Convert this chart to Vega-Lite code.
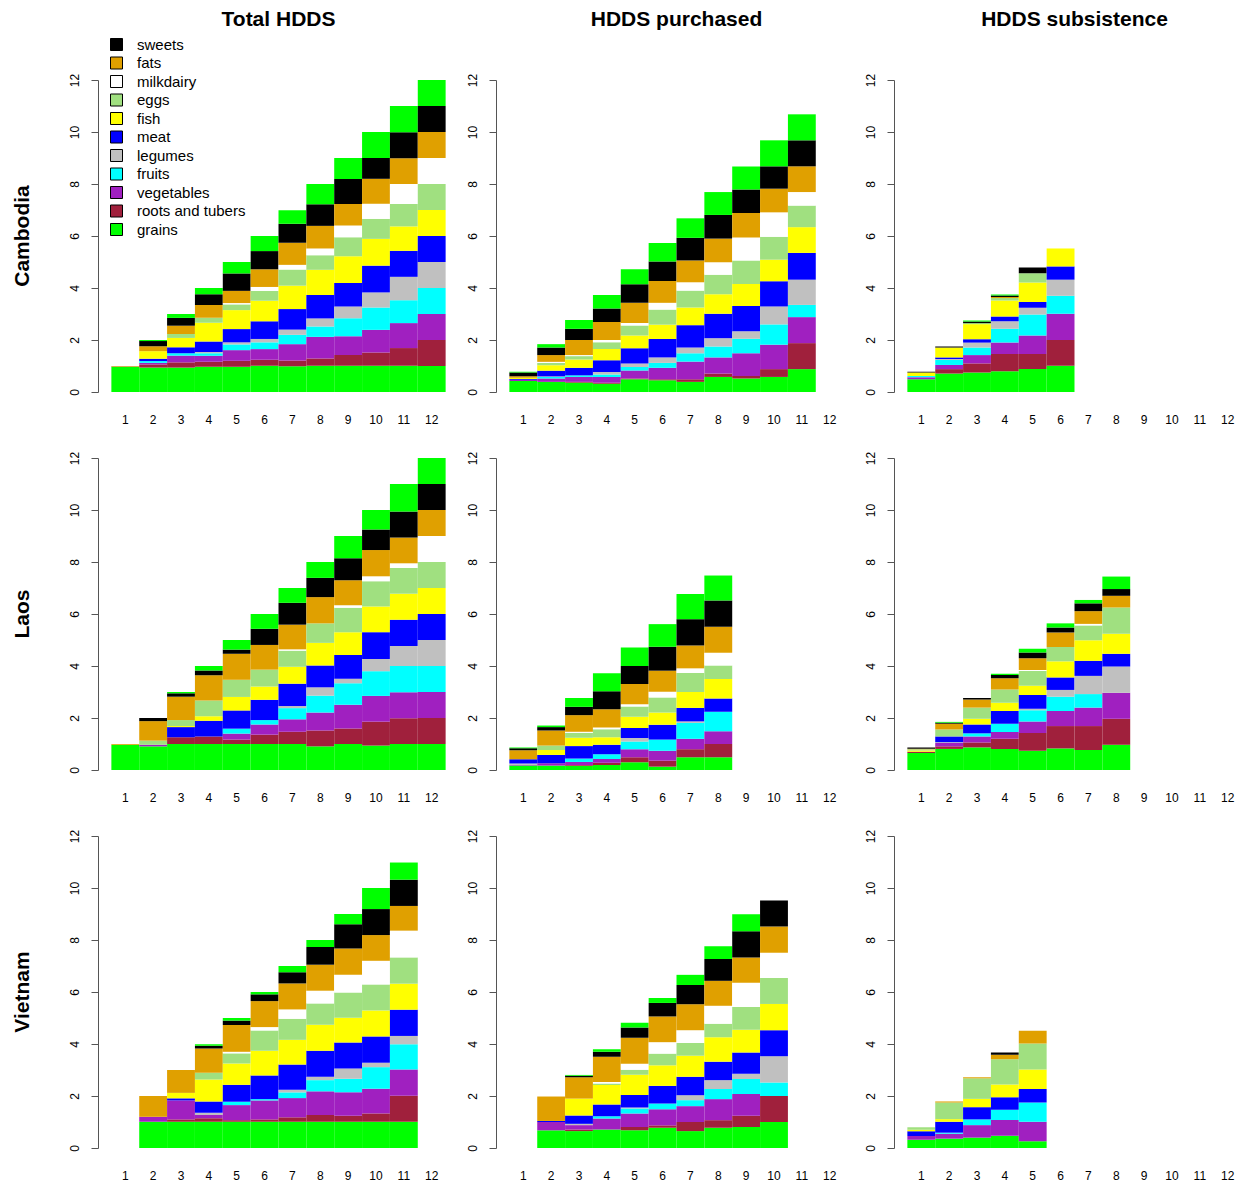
{
  "$schema": "https://vega.github.io/schema/vega-lite/v6.json",
  "padding": {"left": 12, "top": 9, "right": 0, "bottom": 0},
  "datasets": {
    "groups": [
      {"s": "gr", "g": "grains", "k": 1},
      {"s": "rt", "g": "roots and tubers", "k": 2},
      {"s": "vg", "g": "vegetables", "k": 3},
      {"s": "fr", "g": "fruits", "k": 4},
      {"s": "lg", "g": "legumes", "k": 5},
      {"s": "mt", "g": "meat", "k": 6},
      {"s": "fs", "g": "fish", "k": 7},
      {"s": "eg", "g": "eggs", "k": 8},
      {"s": "mk", "g": "milkdairy", "k": 9},
      {"s": "ft", "g": "fats", "k": 10},
      {"s": "sw", "g": "sweets", "k": 11},
      {"s": "ms", "g": "misc", "k": 12}
    ],
    "hdds": [
      {"c": "Cambodia", "p": "Total HDDS", "n": 1, "gr": 0.97, "rt": 0.01, "ft": 0.02},
      {"c": "Cambodia", "p": "Total HDDS", "n": 2, "gr": 0.94, "rt": 0.12, "vg": 0.06, "fr": 0.07, "mt": 0.09, "fs": 0.29, "ft": 0.19, "sw": 0.2, "ms": 0.04},
      {"c": "Cambodia", "p": "Total HDDS", "n": 3, "gr": 0.94, "rt": 0.2, "vg": 0.26, "fr": 0.09, "mt": 0.23, "fs": 0.36, "eg": 0.15, "ft": 0.32, "sw": 0.3, "ms": 0.15},
      {"c": "Cambodia", "p": "Total HDDS", "n": 4, "gr": 0.97, "rt": 0.19, "vg": 0.23, "fr": 0.1, "lg": 0.05, "mt": 0.4, "fs": 0.72, "eg": 0.2, "ft": 0.49, "sw": 0.41, "ms": 0.24},
      {"c": "Cambodia", "p": "Total HDDS", "n": 5, "gr": 0.97, "rt": 0.23, "vg": 0.41, "fr": 0.22, "lg": 0.08, "mt": 0.51, "fs": 0.73, "eg": 0.22, "mk": 0.05, "ft": 0.47, "sw": 0.67, "ms": 0.44},
      {"c": "Cambodia", "p": "Total HDDS", "n": 6, "gr": 1.01, "rt": 0.23, "vg": 0.41, "fr": 0.26, "lg": 0.13, "mt": 0.68, "fs": 0.79, "eg": 0.38, "mk": 0.15, "ft": 0.68, "sw": 0.7, "ms": 0.58},
      {"c": "Cambodia", "p": "Total HDDS", "n": 7, "gr": 0.99, "rt": 0.22, "vg": 0.63, "fr": 0.36, "lg": 0.2, "mt": 0.79, "fs": 0.9, "eg": 0.62, "mk": 0.18, "ft": 0.85, "sw": 0.73, "ms": 0.52},
      {"c": "Cambodia", "p": "Total HDDS", "n": 8, "gr": 1.01, "rt": 0.28, "vg": 0.83, "fr": 0.4, "lg": 0.31, "mt": 0.9, "fs": 0.97, "eg": 0.56, "mk": 0.26, "ft": 0.87, "sw": 0.83, "ms": 0.78},
      {"c": "Cambodia", "p": "Total HDDS", "n": 9, "gr": 1.01, "rt": 0.41, "vg": 0.72, "fr": 0.7, "lg": 0.45, "mt": 0.9, "fs": 1.03, "eg": 0.73, "mk": 0.45, "ft": 0.83, "sw": 0.96, "ms": 0.81},
      {"c": "Cambodia", "p": "Total HDDS", "n": 10, "gr": 1.01, "rt": 0.51, "vg": 0.87, "fr": 0.86, "lg": 0.58, "mt": 1.03, "fs": 1.03, "eg": 0.77, "mk": 0.58, "ft": 0.96, "sw": 0.8, "ms": 1.0},
      {"c": "Cambodia", "p": "Total HDDS", "n": 11, "gr": 1.01, "rt": 0.68, "vg": 0.96, "fr": 0.88, "lg": 0.9, "mt": 1.0, "fs": 0.94, "eg": 0.86, "mk": 0.77, "ft": 0.99, "sw": 1.0, "ms": 1.01},
      {"c": "Cambodia", "p": "Total HDDS", "n": 12, "gr": 1, "rt": 1, "vg": 1, "fr": 1, "lg": 1, "mt": 1, "fs": 1, "eg": 1, "mk": 1, "ft": 1, "sw": 1, "ms": 1},
      {"c": "Cambodia", "p": "HDDS purchased", "n": 1, "gr": 0.42, "vg": 0.05, "mt": 0.03, "fs": 0.05, "ft": 0.06, "sw": 0.14, "ms": 0.03},
      {"c": "Cambodia", "p": "HDDS purchased", "n": 2, "gr": 0.39, "vg": 0.13, "fr": 0.06, "lg": 0.02, "mt": 0.22, "fs": 0.21, "eg": 0.09, "mk": 0.04, "ft": 0.26, "sw": 0.29, "ms": 0.13},
      {"c": "Cambodia", "p": "HDDS purchased", "n": 3, "gr": 0.36, "rt": 0.03, "vg": 0.19, "fr": 0.06, "mt": 0.29, "fs": 0.32, "eg": 0.13, "mk": 0.04, "ft": 0.58, "sw": 0.43, "ms": 0.34},
      {"c": "Cambodia", "p": "HDDS purchased", "n": 4, "gr": 0.32, "rt": 0.04, "vg": 0.22, "fr": 0.09, "lg": 0.1, "mt": 0.45, "fs": 0.43, "eg": 0.26, "mk": 0.09, "ft": 0.69, "sw": 0.52, "ms": 0.52},
      {"c": "Cambodia", "p": "HDDS purchased", "n": 5, "gr": 0.49, "rt": 0.03, "vg": 0.31, "fr": 0.13, "lg": 0.14, "mt": 0.58, "fs": 0.49, "eg": 0.39, "mk": 0.09, "ft": 0.78, "sw": 0.71, "ms": 0.58},
      {"c": "Cambodia", "p": "HDDS purchased", "n": 6, "gr": 0.45, "rt": 0.04, "vg": 0.44, "fr": 0.19, "lg": 0.21, "mt": 0.71, "fs": 0.55, "eg": 0.58, "mk": 0.26, "ft": 0.84, "sw": 0.75, "ms": 0.71},
      {"c": "Cambodia", "p": "HDDS purchased", "n": 7, "gr": 0.39, "rt": 0.1, "vg": 0.68, "fr": 0.32, "lg": 0.22, "mt": 0.86, "fs": 0.68, "eg": 0.65, "mk": 0.32, "ft": 0.84, "sw": 0.87, "ms": 0.75},
      {"c": "Cambodia", "p": "HDDS purchased", "n": 8, "gr": 0.58, "rt": 0.13, "vg": 0.62, "fr": 0.42, "lg": 0.32, "mt": 0.94, "fs": 0.75, "eg": 0.75, "mk": 0.48, "ft": 0.91, "sw": 0.91, "ms": 0.88},
      {"c": "Cambodia", "p": "HDDS purchased", "n": 9, "gr": 0.52, "rt": 0.1, "vg": 0.87, "fr": 0.56, "lg": 0.29, "mt": 0.97, "fs": 0.84, "eg": 0.91, "mk": 0.88, "ft": 0.94, "sw": 0.91, "ms": 0.88},
      {"c": "Cambodia", "p": "HDDS purchased", "n": 10, "gr": 0.58, "rt": 0.3, "vg": 0.94, "fr": 0.78, "lg": 0.69, "mt": 0.97, "fs": 0.83, "eg": 0.88, "mk": 0.94, "ft": 0.91, "sw": 0.86, "ms": 1.0},
      {"c": "Cambodia", "p": "HDDS purchased", "n": 11, "gr": 0.88, "rt": 1.0, "vg": 1.0, "fr": 0.47, "lg": 0.97, "mt": 1.03, "fs": 0.99, "eg": 0.83, "mk": 0.52, "ft": 0.99, "sw": 1.0, "ms": 1.0},
      {"c": "Cambodia", "p": "HDDS subsistence", "n": 1, "gr": 0.49, "vg": 0.08, "fr": 0.05, "fs": 0.13, "sw": 0.03},
      {"c": "Cambodia", "p": "HDDS subsistence", "n": 2, "gr": 0.71, "rt": 0.17, "vg": 0.16, "fr": 0.19, "lg": 0.04, "mt": 0.06, "fs": 0.38, "sw": 0.04},
      {"c": "Cambodia", "p": "HDDS subsistence", "n": 3, "gr": 0.75, "rt": 0.35, "vg": 0.32, "fr": 0.29, "lg": 0.19, "mt": 0.13, "fs": 0.58, "eg": 0.04, "sw": 0.06, "ms": 0.04},
      {"c": "Cambodia", "p": "HDDS subsistence", "n": 4, "gr": 0.8, "rt": 0.66, "vg": 0.44, "fr": 0.53, "lg": 0.29, "mt": 0.18, "fs": 0.62, "eg": 0.1, "ft": 0.03, "sw": 0.06, "ms": 0.04},
      {"c": "Cambodia", "p": "HDDS subsistence", "n": 5, "gr": 0.88, "rt": 0.58, "vg": 0.71, "fr": 0.81, "lg": 0.26, "mt": 0.22, "fs": 0.75, "eg": 0.36, "sw": 0.22},
      {"c": "Cambodia", "p": "HDDS subsistence", "n": 6, "gr": 1.01, "rt": 0.99, "vg": 1.01, "fr": 0.69, "lg": 0.62, "mt": 0.51, "fs": 0.69},
      {"c": "Laos", "p": "Total HDDS", "n": 1, "gr": 0.97, "ft": 0.03},
      {"c": "Laos", "p": "Total HDDS", "n": 2, "gr": 0.91, "vg": 0.06, "eg": 0.16, "ft": 0.75, "sw": 0.12},
      {"c": "Laos", "p": "Total HDDS", "n": 3, "gr": 1.0, "rt": 0.26, "mt": 0.39, "fs": 0.04, "eg": 0.23, "ft": 0.9, "sw": 0.13, "ms": 0.05},
      {"c": "Laos", "p": "Total HDDS", "n": 4, "gr": 1.0, "rt": 0.29, "mt": 0.6, "fs": 0.18, "eg": 0.6, "ft": 0.97, "sw": 0.19, "ms": 0.17},
      {"c": "Laos", "p": "Total HDDS", "n": 5, "gr": 1.0, "rt": 0.17, "vg": 0.23, "fr": 0.19, "mt": 0.7, "fs": 0.52, "eg": 0.66, "ft": 1.0, "sw": 0.16, "ms": 0.37},
      {"c": "Laos", "p": "Total HDDS", "n": 6, "gr": 1.0, "rt": 0.36, "vg": 0.39, "fr": 0.17, "mt": 0.78, "fs": 0.51, "eg": 0.65, "ft": 0.95, "sw": 0.62, "ms": 0.57},
      {"c": "Laos", "p": "Total HDDS", "n": 7, "gr": 1.0, "rt": 0.47, "vg": 0.48, "fr": 0.43, "lg": 0.08, "mt": 0.86, "fs": 0.65, "eg": 0.62, "mk": 0.05, "ft": 0.95, "sw": 0.84, "ms": 0.57},
      {"c": "Laos", "p": "Total HDDS", "n": 8, "gr": 0.91, "rt": 0.61, "vg": 0.69, "fr": 0.65, "lg": 0.32, "mt": 0.84, "fs": 0.87, "eg": 0.75, "ft": 1.01, "sw": 0.74, "ms": 0.61},
      {"c": "Laos", "p": "Total HDDS", "n": 9, "gr": 1.0, "rt": 0.6, "vg": 0.91, "fr": 0.83, "lg": 0.17, "mt": 0.91, "fs": 0.88, "eg": 0.94, "mk": 0.1, "ft": 0.96, "sw": 0.84, "ms": 0.86},
      {"c": "Laos", "p": "Total HDDS", "n": 10, "gr": 0.94, "rt": 0.92, "vg": 0.99, "fr": 0.95, "lg": 0.47, "mt": 1.03, "fs": 0.99, "eg": 0.97, "mk": 0.19, "ft": 1.01, "sw": 0.79, "ms": 0.75},
      {"c": "Laos", "p": "Total HDDS", "n": 11, "gr": 1.0, "rt": 0.99, "vg": 1.0, "fr": 1.01, "lg": 0.77, "mt": 1.01, "fs": 1.0, "eg": 0.99, "mk": 0.18, "ft": 0.99, "sw": 1.0, "ms": 1.06},
      {"c": "Laos", "p": "Total HDDS", "n": 12, "gr": 1, "rt": 1, "vg": 1, "fr": 1, "lg": 1, "mt": 1, "fs": 1, "eg": 1, "mk": 1, "ft": 1, "sw": 1, "ms": 1},
      {"c": "Laos", "p": "HDDS purchased", "n": 1, "gr": 0.17, "vg": 0.02, "lg": 0.06, "mt": 0.16, "ft": 0.35, "sw": 0.08, "ms": 0.03},
      {"c": "Laos", "p": "HDDS purchased", "n": 2, "gr": 0.17, "vg": 0.09, "mt": 0.32, "fs": 0.19, "eg": 0.17, "ft": 0.58, "sw": 0.13, "ms": 0.06},
      {"c": "Laos", "p": "HDDS purchased", "n": 3, "gr": 0.16, "rt": 0.03, "vg": 0.12, "fr": 0.13, "mt": 0.48, "fs": 0.32, "eg": 0.19, "mk": 0.04, "ft": 0.64, "sw": 0.32, "ms": 0.34},
      {"c": "Laos", "p": "HDDS purchased", "n": 4, "gr": 0.19, "rt": 0.09, "vg": 0.14, "fr": 0.19, "mt": 0.36, "fs": 0.29, "eg": 0.31, "mk": 0.06, "ft": 0.71, "sw": 0.69, "ms": 0.69},
      {"c": "Laos", "p": "HDDS purchased", "n": 5, "gr": 0.3, "rt": 0.19, "vg": 0.31, "fr": 0.3, "lg": 0.13, "mt": 0.39, "fs": 0.43, "eg": 0.39, "mk": 0.09, "ft": 0.78, "sw": 0.69, "ms": 0.71},
      {"c": "Laos", "p": "HDDS purchased", "n": 6, "gr": 0.13, "rt": 0.23, "vg": 0.38, "fr": 0.43, "mt": 0.57, "fs": 0.47, "eg": 0.58, "mk": 0.22, "ft": 0.81, "sw": 0.92, "ms": 0.87},
      {"c": "Laos", "p": "HDDS purchased", "n": 7, "gr": 0.49, "rt": 0.31, "vg": 0.4, "fr": 0.61, "lg": 0.06, "mt": 0.52, "fs": 0.61, "eg": 0.73, "mk": 0.18, "ft": 0.88, "sw": 1.01, "ms": 0.97},
      {"c": "Laos", "p": "HDDS purchased", "n": 8, "gr": 0.49, "rt": 0.51, "vg": 0.49, "fr": 0.75, "mt": 0.51, "fs": 0.75, "eg": 0.52, "mk": 0.49, "ft": 1.0, "sw": 1.01, "ms": 0.96},
      {"c": "Laos", "p": "HDDS subsistence", "n": 1, "gr": 0.65, "rt": 0.05, "fs": 0.05, "eg": 0.05, "ft": 0.02, "sw": 0.05},
      {"c": "Laos", "p": "HDDS subsistence", "n": 2, "gr": 0.81, "rt": 0.1, "vg": 0.13, "lg": 0.03, "mt": 0.22, "eg": 0.27, "ft": 0.22, "sw": 0.04, "ms": 0.03},
      {"c": "Laos", "p": "HDDS subsistence", "n": 3, "gr": 0.87, "rt": 0.19, "vg": 0.23, "fr": 0.12, "mt": 0.34, "fs": 0.22, "eg": 0.43, "ft": 0.31, "sw": 0.06},
      {"c": "Laos", "p": "HDDS subsistence", "n": 4, "gr": 0.81, "rt": 0.39, "vg": 0.26, "fr": 0.32, "mt": 0.49, "fs": 0.32, "eg": 0.51, "ft": 0.43, "sw": 0.12, "ms": 0.05},
      {"c": "Laos", "p": "HDDS subsistence", "n": 5, "gr": 0.74, "rt": 0.68, "vg": 0.45, "fr": 0.43, "lg": 0.06, "mt": 0.52, "fs": 0.36, "eg": 0.57, "mk": 0.04, "ft": 0.45, "sw": 0.22, "ms": 0.14},
      {"c": "Laos", "p": "HDDS subsistence", "n": 6, "gr": 0.83, "rt": 0.86, "vg": 0.58, "fr": 0.55, "lg": 0.26, "mt": 0.48, "fs": 0.62, "eg": 0.55, "ft": 0.56, "sw": 0.19, "ms": 0.16},
      {"c": "Laos", "p": "HDDS subsistence", "n": 7, "gr": 0.77, "rt": 0.92, "vg": 0.71, "fr": 0.52, "lg": 0.7, "mt": 0.58, "fs": 0.79, "eg": 0.57, "mk": 0.06, "ft": 0.49, "sw": 0.3, "ms": 0.13},
      {"c": "Laos", "p": "HDDS subsistence", "n": 8, "gr": 0.97, "rt": 1.0, "vg": 1.0, "lg": 1.01, "mt": 0.49, "fs": 0.77, "eg": 1.01, "ft": 0.45, "sw": 0.26, "ms": 0.48},
      {"c": "Vietnam", "p": "Total HDDS", "n": 2, "gr": 1.01, "vg": 0.19, "ft": 0.8},
      {"c": "Vietnam", "p": "Total HDDS", "n": 3, "gr": 1.01, "rt": 0.09, "vg": 0.73, "mt": 0.08, "fs": 0.21, "ft": 0.88},
      {"c": "Vietnam", "p": "Total HDDS", "n": 4, "gr": 1.01, "rt": 0.13, "vg": 0.13, "lg": 0.09, "mt": 0.43, "fs": 0.84, "eg": 0.26, "ft": 0.94, "sw": 0.1, "ms": 0.06},
      {"c": "Vietnam", "p": "Total HDDS", "n": 5, "gr": 1.01, "rt": 0.06, "vg": 0.58, "fr": 0.13, "mt": 0.65, "fs": 0.82, "eg": 0.39, "mk": 0.06, "ft": 1.03, "sw": 0.17, "ms": 0.1},
      {"c": "Vietnam", "p": "Total HDDS", "n": 6, "gr": 1.01, "rt": 0.09, "vg": 0.73, "fr": 0.05, "mt": 0.91, "fs": 0.95, "eg": 0.78, "mk": 0.13, "ft": 1.0, "sw": 0.26, "ms": 0.09},
      {"c": "Vietnam", "p": "Total HDDS", "n": 7, "gr": 1.01, "rt": 0.17, "vg": 0.74, "fr": 0.22, "lg": 0.1, "mt": 0.97, "fs": 0.95, "eg": 0.81, "mk": 0.36, "ft": 1.0, "sw": 0.43, "ms": 0.24},
      {"c": "Vietnam", "p": "Total HDDS", "n": 8, "gr": 1.01, "rt": 0.26, "vg": 0.91, "fr": 0.43, "lg": 0.13, "mt": 1.0, "fs": 1.0, "eg": 0.82, "mk": 0.49, "ft": 1.0, "sw": 0.68, "ms": 0.27},
      {"c": "Vietnam", "p": "Total HDDS", "n": 9, "gr": 1.01, "rt": 0.23, "vg": 0.9, "fr": 0.52, "lg": 0.4, "mt": 1.0, "fs": 0.95, "eg": 0.97, "mk": 0.68, "ft": 1.01, "sw": 0.94, "ms": 0.39},
      {"c": "Vietnam", "p": "Total HDDS", "n": 10, "gr": 1.01, "rt": 0.32, "vg": 0.95, "fr": 0.83, "lg": 0.17, "mt": 1.01, "fs": 1.0, "eg": 1.0, "mk": 0.91, "ft": 0.99, "sw": 1.0, "ms": 0.81},
      {"c": "Vietnam", "p": "Total HDDS", "n": 11, "gr": 1.01, "rt": 1.0, "vg": 1.01, "fr": 0.97, "lg": 0.32, "mt": 1.01, "fs": 1.0, "eg": 1.01, "mk": 1.03, "ft": 0.95, "sw": 1.01, "ms": 0.66},
      {"c": "Vietnam", "p": "HDDS purchased", "n": 2, "gr": 0.68, "vg": 0.32, "mt": 0.04, "ft": 0.94},
      {"c": "Vietnam", "p": "HDDS purchased", "n": 3, "gr": 0.65, "rt": 0.06, "vg": 0.17, "lg": 0.05, "mt": 0.32, "fs": 0.65, "ft": 0.82, "sw": 0.06, "ms": 0.03},
      {"c": "Vietnam", "p": "HDDS purchased", "n": 4, "gr": 0.71, "vg": 0.42, "fr": 0.09, "mt": 0.45, "fs": 0.75, "eg": 0.06, "mk": 0.06, "ft": 0.97, "sw": 0.19, "ms": 0.1},
      {"c": "Vietnam", "p": "HDDS purchased", "n": 5, "gr": 0.68, "rt": 0.13, "vg": 0.52, "fr": 0.19, "lg": 0.04, "mt": 0.48, "fs": 0.78, "eg": 0.19, "mk": 0.23, "ft": 1.0, "sw": 0.39, "ms": 0.19},
      {"c": "Vietnam", "p": "HDDS purchased", "n": 6, "gr": 0.78, "rt": 0.09, "vg": 0.62, "fr": 0.22, "mt": 0.68, "fs": 0.79, "eg": 0.45, "mk": 0.44, "ft": 0.99, "sw": 0.52, "ms": 0.19},
      {"c": "Vietnam", "p": "HDDS purchased", "n": 7, "gr": 0.65, "rt": 0.35, "vg": 0.61, "fr": 0.23, "lg": 0.19, "mt": 0.71, "fs": 0.81, "eg": 0.49, "mk": 0.49, "ft": 1.0, "sw": 0.74, "ms": 0.39},
      {"c": "Vietnam", "p": "HDDS purchased", "n": 8, "gr": 0.78, "rt": 0.29, "vg": 0.81, "fr": 0.39, "lg": 0.34, "mt": 0.71, "fs": 0.94, "eg": 0.52, "mk": 0.69, "ft": 0.96, "sw": 0.84, "ms": 0.49},
      {"c": "Vietnam", "p": "HDDS purchased", "n": 9, "gr": 0.81, "rt": 0.43, "vg": 0.84, "fr": 0.57, "lg": 0.21, "mt": 0.81, "fs": 0.88, "eg": 0.87, "mk": 0.94, "ft": 0.97, "sw": 1.01, "ms": 0.65},
      {"c": "Vietnam", "p": "HDDS purchased", "n": 10, "gr": 1.0, "rt": 1.0, "fr": 0.52, "lg": 1.01, "mt": 1.0, "fs": 1.01, "eg": 1.0, "mk": 0.97, "ft": 1.01, "sw": 1.0},
      {"c": "Vietnam", "p": "HDDS subsistence", "n": 1, "gr": 0.32, "vg": 0.14, "mt": 0.18, "fs": 0.06, "eg": 0.1},
      {"c": "Vietnam", "p": "HDDS subsistence", "n": 2, "gr": 0.36, "vg": 0.19, "fr": 0.04, "mt": 0.42, "fs": 0.1, "eg": 0.64, "ft": 0.04},
      {"c": "Vietnam", "p": "HDDS subsistence", "n": 3, "gr": 0.4, "vg": 0.48, "fr": 0.22, "mt": 0.47, "fs": 0.32, "eg": 0.79, "ft": 0.04},
      {"c": "Vietnam", "p": "HDDS subsistence", "n": 4, "gr": 0.47, "vg": 0.61, "fr": 0.39, "mt": 0.48, "fs": 0.49, "eg": 0.97, "ft": 0.18, "sw": 0.08},
      {"c": "Vietnam", "p": "HDDS subsistence", "n": 5, "gr": 0.26, "vg": 0.75, "fr": 0.74, "mt": 0.52, "fs": 0.75, "eg": 1.0, "ft": 0.49}
    ]
  },
  "data": {"name": "hdds"},
  "transform": [
    {"fold": ["gr", "rt", "vg", "fr", "lg", "mt", "fs", "eg", "mk", "ft", "sw", "ms"], "as": ["s", "v"]},
    {"filter": "datum.v > 0"},
    {"lookup": "s", "from": {"data": {"name": "groups"}, "key": "s", "fields": ["g", "k"]}}
  ],
  "facet": {
    "row": {"field": "c", "type": "nominal", "title": null, "sort": ["Cambodia", "Laos", "Vietnam"],
      "header": {"labelFont": "Liberation Sans", "labelFontSize": 21, "labelFontWeight": "bold", "labelColor": "#000", "labelPadding": 65}},
    "column": {"field": "p", "type": "nominal", "title": null, "sort": ["Total HDDS", "HDDS purchased", "HDDS subsistence"],
      "header": {"labelFont": "Liberation Sans", "labelFontSize": 21, "labelFontWeight": "bold", "labelColor": "#000", "labelPadding": 50}}
  },
  "spacing": {"row": 66, "column": 37},
  "bounds": "flush",
  "resolve": {"axis": {"x": "independent", "y": "independent"}},
  "spec": {
    "width": 361,
    "height": 312,
    "mark": {"type": "bar"},
    "encoding": {
      "x": {"field": "n", "type": "ordinal",
        "scale": {"domain": [1, 2, 3, 4, 5, 6, 7, 8, 9, 10, 11, 12], "paddingInner": 0, "paddingOuter": 0.48},
        "axis": {"title": null, "domain": false, "ticks": false, "labelAngle": 0, "labelPadding": 22, "labelFont": "Liberation Sans", "labelFontSize": 12, "labelColor": "#000"}},
      "y": {"field": "v", "type": "quantitative", "stack": "zero",
        "scale": {"domain": [0, 12], "nice": false, "zero": true},
        "axis": {"title": null, "values": [0, 2, 4, 6, 8, 10, 12], "grid": false, "labelAngle": -90, "labelAlign": "center", "labelBaseline": "bottom", "tickSize": 7, "labelPadding": 10, "domainColor": "#555", "tickColor": "#555", "labelFont": "Liberation Sans", "labelFontSize": 12, "labelColor": "#000"}},
      "color": {"field": "g", "type": "nominal",
        "scale": {
          "domain": ["grains", "roots and tubers", "vegetables", "fruits", "legumes", "meat", "fish", "eggs", "milkdairy", "fats", "sweets", "misc"],
          "range": ["#00FF00", "#A0203C", "#A020C0", "#00FFFF", "#C0C0C0", "#0000FF", "#FFFF00", "#A0E080", "#FFFFFF", "#E0A000", "#000000", "#00FF00"]},
        "legend": {"orient": "none", "legendX": 11, "legendY": -43, "title": null,
          "values": ["sweets", "fats", "milkdairy", "eggs", "fish", "meat", "legumes", "fruits", "vegetables", "roots and tubers", "grains"],
          "symbolType": "square", "symbolSize": 144, "symbolStrokeColor": "#000", "symbolStrokeWidth": 1, "symbolOpacity": 1,
          "labelFont": "Liberation Sans", "labelFontSize": 15, "labelColor": "#000", "rowPadding": 1.5, "labelOffset": 13}},
      "order": {"field": "k", "type": "quantitative"}
    }
  },
  "config": {"view": {"stroke": null}, "background": "white"}
}
